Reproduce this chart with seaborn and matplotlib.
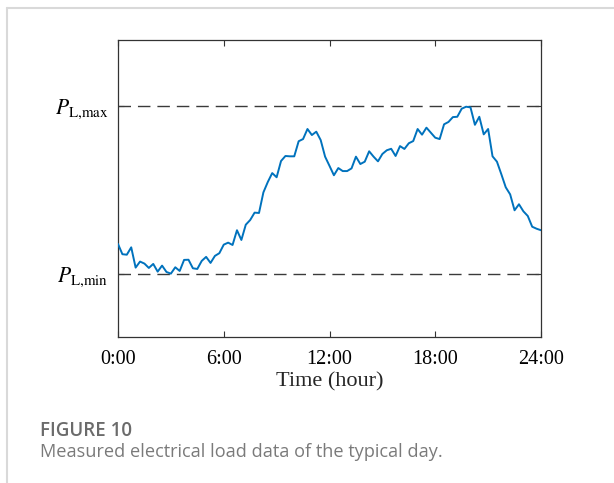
import numpy as np
import pandas as pd
import matplotlib
matplotlib.use("Agg")
import matplotlib.pyplot as plt
import seaborn as sns
from matplotlib.lines import Line2D

# 15-minute samples over one day (hours), normalized load (0 = P_L,min, 1 = P_L,max)
hours = [i * 0.25 for i in range(97)]
load = [0.177, 0.116, 0.113, 0.157, 0.036, 0.072, 0.060, 0.034, 0.058, 0.012,
        0.048, 0.010, 0.000, 0.038, 0.016, 0.082, 0.083, 0.032, 0.028, 0.076,
        0.100, 0.064, 0.106, 0.122, 0.173, 0.185, 0.171, 0.259, 0.201, 0.292,
        0.320, 0.364, 0.362, 0.485, 0.547, 0.600, 0.575, 0.672, 0.702, 0.700,
        0.700, 0.790, 0.803, 0.863, 0.827, 0.847, 0.797, 0.698, 0.643, 0.587,
        0.630, 0.612, 0.612, 0.628, 0.698, 0.654, 0.668, 0.730, 0.698, 0.670,
        0.714, 0.736, 0.745, 0.702, 0.761, 0.744, 0.778, 0.791, 0.863, 0.829,
        0.871, 0.841, 0.811, 0.803, 0.891, 0.905, 0.934, 0.936, 0.984, 0.996,
        0.992, 0.888, 0.936, 0.831, 0.863, 0.700, 0.668, 0.593, 0.515, 0.473,
        0.378, 0.414, 0.372, 0.344, 0.280, 0.268, 0.259]
p_min, p_max = 0.0, 1.0
x_ticks = [0, 6, 12, 18, 24]
x_ticklabels = ["0:00", "6:00", "12:00", "18:00", "24:00"]
y_ticklabels = [r"$P_{\mathrm{L{,}min}}$", r"$P_{\mathrm{L{,}max}}$"]
x_label = "Time (hour)"
fig_title = "FIGURE 10"
fig_caption = "Measured electrical load data of the typical day."

sns.set_theme(style="white")
plt.rcParams["font.family"] = ["Liberation Serif", "DejaVu Serif"]
plt.rcParams["mathtext.fontset"] = "stix"

df = pd.DataFrame({"hour": hours, "load": load})

fig = plt.figure(figsize=(6.14, 4.83), dpi=100)
ax = fig.add_axes([118 / 614, 1 - 337 / 483, 423 / 614, 297 / 483])

for yv in (p_min, p_max):
    ax.axhline(yv, color="#3a3a3a", lw=1.0, ls=(0, (9, 5)), zorder=1)

sns.lineplot(data=df, x="hour", y="load", ax=ax, color="#0072BD", lw=1.4, zorder=3)

ax.set_xlim(0, 24)
ax.set_ylim(-0.378, 1.394)
ax.set_xticks(x_ticks)
ax.set_xticklabels(x_ticklabels, fontsize=14.5)
ax.set_yticks([p_min, p_max])
ax.set_yticklabels(y_ticklabels, fontsize=15.5)
ax.set_xlabel(x_label, fontsize=16, labelpad=3)
ax.set_ylabel("")
ax.tick_params(axis="both", direction="in", length=4, width=0.8, color="#333333",
               top=True, right=True, bottom=True, left=True, labelcolor="black")
ax.tick_params(axis="x", pad=9)
ax.tick_params(axis="y", pad=7)
for s in ax.spines.values():
    s.set_color("#333333")
    s.set_linewidth(0.9)
    s.set_visible(True)

# card border lines
fig.add_artist(Line2D([7 / 614, 1.0], [1 - 8 / 483, 1 - 8 / 483], transform=fig.transFigure,
                      color="#d9d9d9", lw=1.5))
fig.add_artist(Line2D([7 / 614, 7 / 614], [0.0, 1 - 8 / 483], transform=fig.transFigure,
                      color="#d9d9d9", lw=1.5))

fig.text(40 / 614, 1 - 431 / 483, fig_title, fontsize=13.5, fontweight="semibold",
         color="#6b6b6b", family=["Open Sans", "DejaVu Sans"], va="center", ha="left")
fig.text(40 / 614, 1 - 452 / 483, fig_caption, fontsize=13.1, color="#7a7a7a",
         family=["Open Sans", "DejaVu Sans"], va="center", ha="left")

fig.savefig("out.png", dpi=100)
